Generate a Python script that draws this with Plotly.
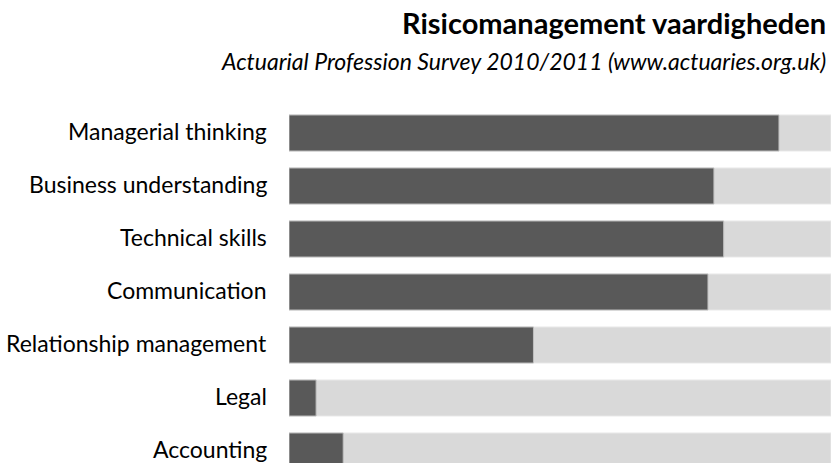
import plotly.graph_objects as go

categories = ["Managerial thinking", "Business understanding", "Technical skills",
              "Communication", "Relationship management", "Legal", "Accounting"]
values = [0.904, 0.784, 0.802, 0.773, 0.451, 0.05, 0.10]
full = [1.0] * len(categories)

W, H = 831, 463
top = 100
plot_h = H - top
pitch = 53.0
first_center = 133.0
y_top = -(first_center - top) / pitch
y_bot = y_top + plot_h / pitch
pos = list(range(len(categories)))
FONT = "Lato"

fig = go.Figure()
fig.add_trace(go.Bar(y=pos, x=full, orientation="h", width=0.68,
                     marker=dict(color="#d9d9d9", line=dict(color="#e9e9e9", width=1)),
                     hoverinfo="skip", showlegend=False))
fig.add_trace(go.Bar(y=pos, x=values, orientation="h", width=0.68,
                     marker=dict(color="#595959", line=dict(color="#bfbfbf", width=1)),
                     showlegend=False))

annotations = [
    dict(text="<b>Risicomanagement vaardigheden</b>", xref="paper", yref="paper",
         x=(828 - 289) / (W - 289), y=(H - 23) / plot_h, xanchor="right", yanchor="middle",
         showarrow=False, font=dict(size=29, family=FONT, color="#000")),
    dict(text="<i>Actuarial Profession Survey 2010/2011 (www.actuaries.org.uk)</i>",
         xref="paper", yref="paper",
         x=(828 - 289) / (W - 289), y=(H - 61) / plot_h, xanchor="right", yanchor="middle",
         showarrow=False, font=dict(size=23, family=FONT, color="#000")),
]
for p, c in zip(pos, categories):
    annotations.append(dict(text=c, xref="paper", yref="y", x=0, y=p, xanchor="right",
                            yanchor="middle", xshift=-20, yshift=2, showarrow=False,
                            font=dict(size=23, family=FONT, color="#000")))

fig.update_layout(
    width=W, height=H, barmode="overlay",
    margin=dict(l=289, r=0, t=top, b=0),
    paper_bgcolor="white", plot_bgcolor="white",
    font=dict(family=FONT, color="#000000"),
    xaxis=dict(range=[0, 1], visible=False, fixedrange=True),
    yaxis=dict(range=[y_bot, y_top], showticklabels=False, showgrid=False,
               zeroline=False, showline=False, ticks=""),
    annotations=annotations,
)
fig.write_html("out.html")
